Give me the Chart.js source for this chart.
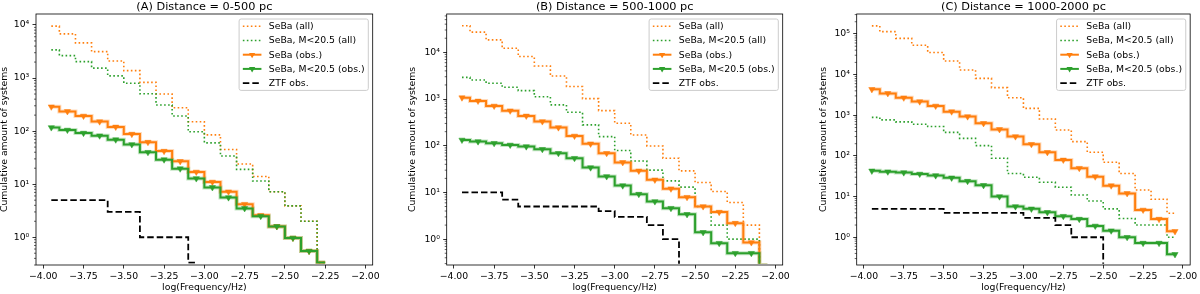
<!DOCTYPE html>
<html>
<head>
<meta charset="utf-8">
<script src="https://cdn.jsdelivr.net/npm/chart.js@4.4.1/dist/chart.umd.min.js"></script>
<style>
  html, body { margin: 0; padding: 0; background: #fff; }
  #wrap { position: relative; width: 1200px; height: 294px; }
  #wrap canvas { position: absolute; top: 0; }
</style>
</head>
<body>
<div id="wrap">
  <canvas id="panelA" width="400" height="294" style="left:0px"></canvas>
  <canvas id="panelB" width="400" height="294" style="left:400px"></canvas>
  <canvas id="panelC" width="400" height="294" style="left:800px"></canvas>
</div>
<script>
// bin centres, log(Frequency/Hz)
const freq = [-3.95, -3.85, -3.75, -3.65, -3.55, -3.45, -3.35, -3.25, -3.15, -3.05,
              -2.95, -2.85, -2.75, -2.65, -2.55, -2.45, -2.35, -2.25, -2.15, -2.05];
const xTicks = [-4.0, -3.75, -3.5, -3.25, -3.0, -2.75, -2.5, -2.25, -2.0];
const yTicks = [1, 10, 100, 1000, 10000, 100000];
const seriesNames = ['SeBa (all)', 'SeBa, M<20.5 (all)', 'SeBa (obs.)', 'SeBa, M<20.5 (obs.)', 'ZTF obs.'];

// (A) 0-500 pc
const sebaAllA    = [9500, 6800, 4600, 3150, 2100, 1380, 830, 500, 275, 150, 85, 45, 24, 14, 7.2, 3.9, 2, 0, 0, 0];
const sebaCutAllA = [3400, 2650, 2040, 1540, 1100, 800, 505, 310, 193, 97, 60, 34, 19, 11.5, 7.2, 3.9, 2, 0, 0, 0];
const sebaObsA    = [288, 235, 193, 151, 120, 88, 62, 42, 27, 17, 11, 7.2, 4.2, 2.6, 1.6, 0.97, 0.55, 0, 0, 0];
const sebaCutObsA = [117, 105, 92, 82, 69, 56, 40, 29, 19.6, 12.8, 8.7, 5.6, 3.5, 2.5, 1.6, 0.97, 0.55, 0, 0, 0];
const ztfA        = [5, 5, 5, 5, 3, 3, 1, 1, 1, 0, 0, 0, 0, 0, 0, 0, 0, 0, 0, 0];

// (B) 500-1000 pc
const sebaAllB    = [37000, 27000, 18400, 12200, 8100, 5100, 3100, 1850, 1020, 565, 303, 170, 99, 54, 29, 16.3, 10.5, 6.1, 2.0, 0];
const sebaCutAllB = [2900, 2560, 2180, 1790, 1510, 1120, 750, 520, 280, 157, 79, 47, 30, 17.7, 13, 5, 2, 1, 1, 0];
const sebaObsB    = [1070, 910, 710, 560, 435, 330, 245, 162, 110, 69, 44, 29, 18.6, 12, 7.9, 5, 3.8, 2.2, 0.85, 0];
const sebaCutObsB = [133, 123, 113, 104, 96, 84, 69, 54, 34, 22, 14, 9.2, 6.4, 4.6, 3.4, 1.4, 0.82, 0.5, 0.5, 0];
const ztfB        = [10, 10, 10, 7, 5, 5, 5, 5, 5, 4, 3, 3, 2, 1, 0, 0, 0, 0, 0, 0];

// (C) 1000-2000 pc
const sebaAllC    = [158000, 114000, 78000, 53000, 35000, 21700, 13000, 8100, 4800, 2700, 1480, 810, 435, 225, 123, 70, 37, 14.6, 8.6, 3.9];
const sebaCutAllC = [890, 770, 690, 600, 530, 380, 270, 180, 88, 37, 30, 22.5, 17, 11, 7.8, 5, 2.9, 2, 2, 1];
const sebaObsC    = [4360, 3460, 2700, 2170, 1700, 1230, 930, 635, 450, 300, 194, 123, 80, 50, 31, 18.6, 12, 4.7, 2.8, 1.4];
const sebaCutObsC = [43, 41, 39, 36, 33, 29, 24, 19, 10, 5.7, 5, 4.1, 3.3, 2.8, 1.9, 1.45, 1, 0.72, 0.72, 0.38];
const ztfC        = [5, 5, 5, 5, 5, 4, 4, 4, 4, 4, 3, 3, 2, 1, 1, 0, 0, 0, 0, 0];

const orange = '#ff7f0e';
const green = '#2ca02c';
const fs = 9.3;
Chart.defaults.font.family = "'DejaVu Sans', sans-serif";
Chart.defaults.font.size = fs;
Chart.defaults.color = '#000';

const sup = { '0': '\u2070', '1': '\u00b9', '2': '\u00b2', '3': '\u00b3', '4': '\u2074', '5': '\u2075', '-': '\u207b' };

// a zero count sits at -inf on a log axis: pin it to the bottom of the axis, like matplotlib clips it
function toPoints(vals, floor) {
    return freq.map((x, i) => ({ x: x, y: vals[i] > 0 ? vals[i] : floor }));
}

function stepSet(label, vals, floor, color, kind, order) {
    let ds = {
        label: label,
        data: toPoints(vals, floor),
        borderColor: color,
        backgroundColor: color,
        stepped: 'middle',
        fill: false,
        order: order,
        clip: { left: 0, top: 0, right: 0, bottom: -1.2 },
        kind: kind,
        pointRadius: 0,
        pointHoverRadius: 0,
        segment: {
            borderColor: c => (vals[c.p0DataIndex] === 0 && vals[c.p1DataIndex] === 0) ? 'rgba(0,0,0,0)' : undefined
        }
    };
    if (kind === 'dot') {
        ds.borderWidth = 1.6;
        ds.borderDash = [1.6, 2.4];
    } else if (kind === 'dash') {
        ds.borderWidth = 1.8;
        ds.borderDash = [6.5, 3];
    } else if (kind === 'obs') {
        ds.borderWidth = 2;
        ds.pointStyle = 'triangle';
        ds.pointRotation = 180;
        ds.pointRadius = c => vals[c.dataIndex] > 0 ? 3.6 : 0;
        ds.pointBorderWidth = 0.5;
    } else if (kind === 'halo') {
        ds.borderWidth = 4;
    }
    return ds;
}

function haloColor(hex) {
    const r = parseInt(hex.slice(1, 3), 16), g = parseInt(hex.slice(3, 5), 16), b = parseInt(hex.slice(5, 7), 16);
    return 'rgba(' + r + ',' + g + ',' + b + ',0.28)';
}

const panelPlugin = {
    id: 'panelDeco',
    afterDatasetsDraw(chart, args, opts) {
        const ctx = chart.ctx;
        const a = chart.chartArea;
        const y = chart.scales.y;
        ctx.save();
        // minor ticks of the log axis
        ctx.strokeStyle = '#000';
        ctx.lineWidth = 0.6;
        ctx.beginPath();
        const d0 = Math.floor(Math.log10(y.min)), d1 = Math.ceil(Math.log10(y.max));
        for (let d = d0; d <= d1; d++) {
            for (let k = 2; k <= 9; k++) {
                const v = k * Math.pow(10, d);
                if (v < y.min || v > y.max) continue;
                const py = y.getPixelForValue(v);
                ctx.moveTo(a.left - 2, py);
                ctx.lineTo(a.left, py);
            }
        }
        ctx.stroke();
        // frame
        ctx.lineWidth = 0.8;
        ctx.strokeRect(a.left, a.top, a.right - a.left, a.bottom - a.top);
        // title
        ctx.fillStyle = '#000';
        ctx.font = '11.3px "DejaVu Sans"';
        ctx.textAlign = 'center';
        ctx.textBaseline = 'alphabetic';
        ctx.fillText(opts.title, (a.left + a.right) / 2, 9.6);
        // legend
        const items = chart.data.datasets.filter(ds => ds.kind !== 'halo');
        items.sort((p, q) => p.legendIndex - q.legendIndex);
        ctx.font = fs + 'px "DejaVu Sans"';
        let tw = 0;
        items.forEach(ds => { tw = Math.max(tw, ctx.measureText(ds.label).width); });
        const pad = 0.4 * fs, hl = 2 * fs, htp = 0.8 * fs;
        const bw = pad + hl + htp + tw + pad;
        const pitch = 14.2, top0 = 7.3;
        const bh = 2 * top0 + (items.length - 1) * pitch;
        const bx = a.right - 4.4 - bw, by = a.top + 5;
        ctx.beginPath();
        ctx.roundRect(bx, by, bw, bh, 2);
        ctx.fillStyle = 'rgba(255,255,255,0.8)';
        ctx.fill();
        ctx.strokeStyle = '#cccccc';
        ctx.lineWidth = 1;
        ctx.stroke();
        items.forEach((ds, i) => {
            const cy = by + top0 + i * pitch;
            const hx0 = bx + pad, hx1 = hx0 + hl;
            ctx.save();
            ctx.strokeStyle = ds.borderColor;
            ctx.lineWidth = ds.borderWidth;
            ctx.setLineDash(ds.borderDash || []);
            ctx.beginPath();
            ctx.moveTo(hx0, cy);
            ctx.lineTo(hx1, cy);
            ctx.stroke();
            ctx.restore();
            if (ds.kind === 'obs') {
                const r = 3.6, cx = (hx0 + hx1) / 2;
                ctx.beginPath();
                ctx.moveTo(cx, cy + r);
                ctx.lineTo(cx - r * 0.866, cy - r / 2);
                ctx.lineTo(cx + r * 0.866, cy - r / 2);
                ctx.closePath();
                ctx.fillStyle = ds.borderColor;
                ctx.fill();
            }
            ctx.fillStyle = '#000';
            ctx.textAlign = 'left';
            ctx.textBaseline = 'middle';
            ctx.fillText(ds.label, hx1 + htp, cy + 0.5);
        });
        ctx.restore();
    }
};

function makePanel(id, title, yMin, yMax, padL, yWidth, padR, all, cutAll, obs, cutObs, ztf) {
    let sets = [
        stepSet(seriesNames[0], all, yMin, orange, 'dot', 6),
        stepSet(seriesNames[1], cutAll, yMin, green, 'dot', 5),
        stepSet(seriesNames[2], obs, yMin, orange, 'obs', 2),
        stepSet(seriesNames[3], cutObs, yMin, green, 'obs', 1),
        stepSet(seriesNames[4], ztf, yMin, '#000', 'dash', 0),
        stepSet('halo obs', obs, yMin, haloColor(orange), 'halo', 4),
        stepSet('halo cut obs', cutObs, yMin, haloColor(green), 'halo', 3)
    ];
    sets.forEach((ds, i) => { ds.legendIndex = i; });
    new Chart(document.getElementById(id), {
        type: 'line',
        data: { datasets: sets },
        options: {
            responsive: false,
            animation: false,
            devicePixelRatio: 1,
            layout: { padding: { left: padL, right: padR, top: 14, bottom: 0 } },
            plugins: {
                legend: { display: false },
                tooltip: { enabled: false },
                panelDeco: { title: title }
            },
            scales: {
                x: {
                    type: 'linear',
                    min: -4.045,
                    max: -1.955,
                    afterBuildTicks: s => { s.ticks = xTicks.map(v => ({ value: v })); },
                    afterFit: s => { s.height = 29; },
                    border: { display: false },
                    grid: { drawOnChartArea: false, drawTicks: true, tickLength: 3.5, tickColor: '#000', tickWidth: 0.8 },
                    ticks: {
                        color: '#000', padding: 2.6, maxRotation: 0, autoSkip: false,
                        callback: v => Number(v).toFixed(2).replace('-', '\u2212')
                    },
                    title: { display: true, text: 'log(Frequency/Hz)', color: '#000', padding: { top: 0, bottom: 0.5 } }
                },
                y: {
                    type: 'logarithmic',
                    min: yMin,
                    max: yMax,
                    afterBuildTicks: s => { s.ticks = yTicks.filter(v => v >= s.min && v <= s.max).map(v => ({ value: v, major: true })); },
                    afterFit: s => { s.width = yWidth; },
                    border: { display: false },
                    grid: { drawOnChartArea: false, drawTicks: true, tickLength: 3.5, tickColor: '#000', tickWidth: 0.8 },
                    ticks: {
                        color: '#000', padding: 3.2,
                        callback: v => '10' + String(Math.round(Math.log10(v))).split('').map(c => sup[c]).join('')
                    },
                    title: { display: true, text: 'Cumulative amount of systems', color: '#000', font: { lineHeight: 1 }, padding: 0 }
                }
            }
        },
        plugins: [panelPlugin]
    });
}

makePanel('panelA', '(A) Distance = 0-500 pc', 0.334, 16100, 0, 36, 27.3,
    sebaAllA, sebaCutAllA, sebaObsA, sebaCutObsA, ztfA);
makePanel('panelB', '(B) Distance = 500-1000 pc', 0.28, 66000, 8.35, 38.35, 17.3,
    sebaAllB, sebaCutAllB, sebaObsB, sebaCutObsB, ztfB);
makePanel('panelC', '(C) Distance = 1000-2000 pc', 0.208, 310000, 19.35, 37.35, 8,
    sebaAllC, sebaCutAllC, sebaObsC, sebaCutObsC, ztfC);
</script>
</body>
</html>
